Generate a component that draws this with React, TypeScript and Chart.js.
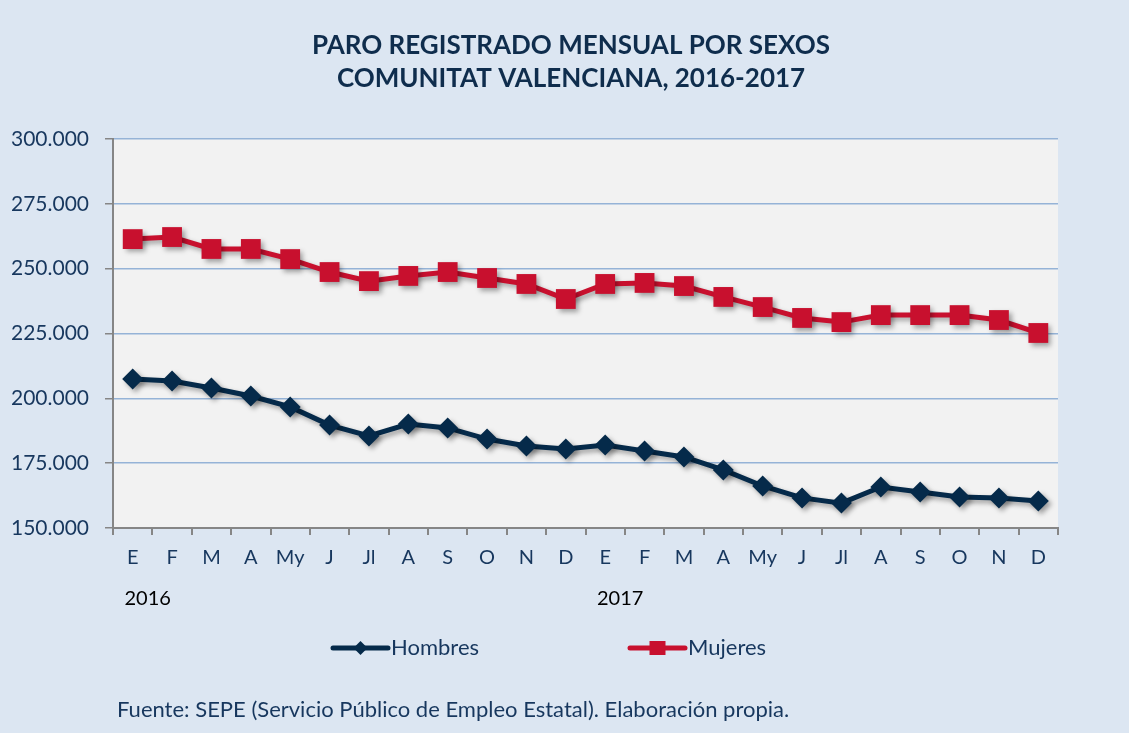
import React, { useEffect, useRef } from "react";
import { Chart, registerables } from "chart.js";

Chart.register(...registerables);

const categories = ["E", "F", "M", "A", "My", "J", "Jl", "A", "S", "O", "N", "D", "E", "F", "M", "A", "My", "J", "Jl", "A", "S", "O", "N", "D"];
const yearLabels = ["2016", "2017"];
const yearStartIndex = [0, 12];
const hombres = [207500, 206700, 204000, 200900, 196700, 189700, 185500, 190100, 188600, 184300, 181600, 180500, 182000, 179700, 177400, 172400, 166200, 161600, 159600, 165800, 163900, 162000, 161600, 160400];
const mujeres = [261400, 262200, 257600, 257600, 253700, 248700, 245200, 247200, 248700, 246400, 244100, 238300, 244100, 244500, 243300, 239100, 235200, 231000, 229400, 232100, 232100, 232100, 230200, 225200];
const titleLines = ["PARO REGISTRADO MENSUAL POR SEXOS", "COMUNITAT VALENCIANA, 2016-2017"];
const sourceText = "Fuente: SEPE (Servicio Público de Empleo Estatal). Elaboración propia.";

const NAVY = "#052a4a";
const RED = "#c8102e";
const TEXT = "#17375e";
const FONT = "Lato, 'Open Sans', sans-serif";

const fmt = (v: number) => String(v).replace(/\B(?=(\d{3})+(?!\d))/g, ".");

export default function App() {
  const ref = useRef<HTMLCanvasElement | null>(null);
  useEffect(() => {
    document.body.style.margin = "0";
    const canvas = ref.current!;
    const decor = {
      id: "decor",
      beforeDraw(chart: any) {
        const { ctx, chartArea: a } = chart;
        ctx.save();
        ctx.fillStyle = "#dce6f2";
        ctx.fillRect(0, 0, chart.width, chart.height);
        ctx.fillStyle = "#f2f2f2";
        ctx.fillRect(a.left, a.top, a.right - a.left, a.bottom - a.top);
        ctx.restore();
      },
      beforeDatasetsDraw(chart: any) {
        const ctx = chart.ctx;
        ctx.save();
        ctx.shadowColor = "rgba(0,0,0,0.35)";
        ctx.shadowBlur = 5;
        ctx.shadowOffsetX = 3;
        ctx.shadowOffsetY = 3;
      },
      afterDatasetsDraw(chart: any) {
        chart.ctx.restore();
      },
      afterDraw(chart: any) {
        const { ctx } = chart;
        const x = chart.scales.x;
        ctx.save();
        // title
        ctx.fillStyle = "#0f2d4d";
        ctx.font = `bold 26px ${FONT}`;
        ctx.textAlign = "center";
        ctx.textBaseline = "middle";
        ctx.fillText(titleLines[0], 571, 46);
        ctx.fillText(titleLines[1], 571, 79);
        // year labels
        ctx.fillStyle = "#000";
        ctx.font = `20px ${FONT}`;
        ctx.textAlign = "center";
        yearLabels.forEach((y, i) => {
          ctx.fillText(y, x.getPixelForValue(yearStartIndex[i]) + 15, 599);
        });
        // legend
        const items = [
          { label: "Hombres", color: NAVY, style: "diamond", x0: 333 },
          { label: "Mujeres", color: RED, style: "square", x0: 630 },
        ];
        const ly = 648;
        items.forEach((it) => {
          ctx.strokeStyle = it.color;
          ctx.lineWidth = 5;
          ctx.lineCap = "round";
          ctx.beginPath();
          ctx.moveTo(it.x0, ly);
          ctx.lineTo(it.x0 + 55, ly);
          ctx.stroke();
          ctx.fillStyle = it.color;
          const cx = it.x0 + 27.5;
          if (it.style === "square") {
            ctx.fillRect(cx - 8, ly - 7, 16, 14);
          } else {
            ctx.beginPath();
            ctx.moveTo(cx, ly - 7);
            ctx.lineTo(cx + 7, ly);
            ctx.lineTo(cx, ly + 7);
            ctx.lineTo(cx - 7, ly);
            ctx.closePath();
            ctx.fill();
          }
          ctx.fillStyle = TEXT;
          ctx.font = `22px ${FONT}`;
          ctx.textAlign = "left";
          ctx.fillText(it.label, it.x0 + 58, ly);
        });
        // source
        ctx.fillStyle = TEXT;
        ctx.font = `22px ${FONT}`;
        ctx.textAlign = "left";
        ctx.fillText(sourceText, 117, 710);
        ctx.restore();
      },
    };
    const chart = new Chart(canvas, {
      type: "line",
      data: {
        labels: categories,
        datasets: [
          {
            label: "Hombres",
            data: hombres,
            borderColor: NAVY,
            backgroundColor: NAVY,
            borderWidth: 5,
            pointStyle: "rectRot",
            pointRadius: 10.5,
            pointHoverRadius: 10.5,
            pointBorderWidth: 0,
            tension: 0,
          },
          {
            label: "Mujeres",
            data: mujeres,
            borderColor: RED,
            backgroundColor: RED,
            borderWidth: 5,
            pointStyle: "rect",
            pointRadius: 14,
            pointHoverRadius: 14,
            pointBorderWidth: 0,
            tension: 0,
          },
        ],
      },
      options: {
        responsive: false,
        animation: false,
        layout: { padding: { left: 0, top: 139, right: 71, bottom: 125 } },
        plugins: { legend: { display: false }, title: { display: false }, tooltip: { enabled: false } },
        scales: {
          x: {
            offset: true,
            grid: { offset: true, drawOnChartArea: false, color: "#868686", tickColor: "#868686", tickLength: 7, lineWidth: 2 },
            border: { color: "#868686", width: 2 },
            ticks: { color: TEXT, font: { family: FONT, size: 20 }, padding: 11, autoSkip: false, maxRotation: 0 },
            afterFit: (s: any) => { s.height = 80; },
          },
          y: {
            min: 150000,
            max: 300000,
            grid: { color: "#95b3d7", lineWidth: 1.5, tickColor: "#868686", tickLength: 8 },
            border: { color: "#868686", width: 2 },
            ticks: { stepSize: 25000, color: TEXT, font: { family: FONT, size: 21 }, padding: 16, callback: (v: any) => fmt(Number(v)) },
            afterFit: (s: any) => { s.width = 113; },
          },
        },
      },
      plugins: [decor],
    });
    return () => chart.destroy();
  }, []);
  return (
    <div style={{ width: 1129, height: 733 }}>
      <canvas ref={ref} width={1129} height={733} style={{ display: "block" }} />
    </div>
  );
}
